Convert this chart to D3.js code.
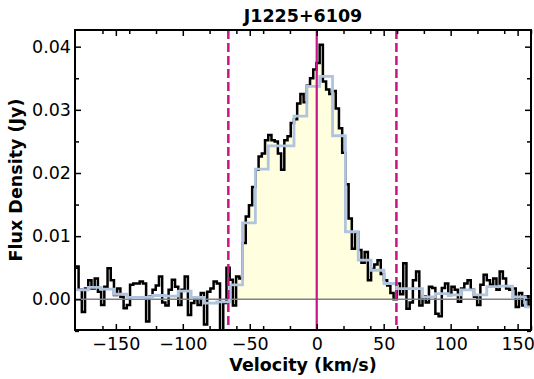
<!DOCTYPE html>
<html><head><meta charset="utf-8">
<script src="https://cdn.jsdelivr.net/npm/d3@7"></script>
<style>body{margin:0;background:#fff} svg{display:block} text{font-family:"DejaVu Sans",sans-serif}</style>
</head><body><svg id="c" width="534" height="379"></svg>
<script>
const channelVelocity = [-179.0,-176.6,-174.2,-171.8,-169.4,-167.0,-164.6,-162.2,-159.8,-157.4,-155.0,-152.6,-150.2,-147.8,-145.4,-143.0,-140.6,-138.2,-135.8,-133.4,-131.0,-128.6,-126.2,-123.8,-121.4,-119.0,-116.6,-114.2,-111.8,-109.4,-107.0,-104.6,-102.2,-99.8,-97.4,-95.0,-92.6,-90.2,-87.8,-85.4,-83.0,-80.6,-78.2,-75.8,-73.4,-71.0,-68.6,-66.2,-63.8,-61.4,-59.0,-56.6,-54.2,-51.8,-49.4,-47.0,-44.6,-42.2,-39.8,-37.4,-35.0,-32.6,-30.2,-27.8,-25.4,-23.0,-20.6,-18.2,-15.8,-13.4,-11.0,-8.6,-6.2,-3.8,-1.4,1.0,3.4,5.8,8.2,10.6,13.0,15.4,17.8,20.2,22.6,25.0,27.4,29.8,32.2,34.6,37.0,39.4,41.8,44.2,46.6,49.0,51.4,53.8,56.2,58.6,61.0,63.4,65.8,68.2,70.6,73.0,75.4,77.8,80.2,82.6,85.0,87.4,89.8,92.2,94.6,97.0,99.4,101.8,104.2,106.6,109.0,111.4,113.8,116.2,118.6,121.0,123.4,125.8,128.2,130.6,133.0,135.4,137.8,140.2,142.6,145.0,147.4,149.8,152.2,154.6,157.0,159.4];
const channelFlux = [0.0052,0.0015,-0.0020,0.0017,0.0030,0.0017,0.0033,0.0012,-0.0009,0.0020,0.0049,0.0030,0.0007,0.0017,0.0004,-0.0014,-0.0009,0.0023,0.0025,0.0025,0.0028,0.0025,-0.0035,0.0004,0.0015,0.0022,0.0036,-0.0005,-0.0010,0.0015,0.0031,0.0020,-0.0009,0.0015,0.0036,-0.0025,-0.0006,0.0000,-0.0009,0.0010,-0.0040,0.0012,0.0017,0.0028,0.0025,-0.0052,-0.0006,0.0050,0.0031,-0.0010,0.0036,0.0033,0.0089,0.0131,0.0149,0.0178,0.0205,0.0226,0.0231,0.0252,0.0260,0.0252,0.0250,0.0231,0.0205,0.0252,0.0258,0.0279,0.0285,0.0310,0.0325,0.0312,0.0338,0.0350,0.0364,0.0374,0.0403,0.0345,0.0332,0.0325,0.0330,0.0302,0.0271,0.0232,0.0182,0.0128,0.0080,0.0106,0.0078,0.0058,0.0075,0.0030,0.0048,0.0055,0.0062,0.0040,0.0030,0.0022,0.0010,0.0000,0.0025,0.0008,0.0057,-0.0015,-0.0005,0.0030,0.0044,-0.0010,0.0005,-0.0005,0.0020,0.0018,-0.0023,-0.0027,0.0018,0.0025,0.0007,0.0020,0.0015,-0.0004,0.0017,0.0025,0.0030,0.0015,0.0004,-0.0009,0.0023,0.0039,0.0030,0.0023,0.0033,0.0015,0.0044,0.0033,0.0017,0.0015,0.0017,-0.0012,0.0010,-0.0010,0.0005,-0.0010];
const binVelocity = [-175.4,-165.8,-156.2,-146.6,-137.0,-127.4,-117.8,-108.2,-98.6,-89.0,-79.4,-69.8,-60.2,-50.6,-41.0,-31.4,-21.8,-12.2,-2.6,7.0,16.6,26.2,35.8,45.4,55.0,64.6,74.2,83.8,93.4,103.0,112.6,122.2,131.8,141.4,151.0,160.6];
const binFlux = [0.0015,0.0019,0.0016,0.0008,0.0003,0.0003,0.0006,0.0005,0.0013,0.0003,-0.0006,-0.0004,0.0023,0.0121,0.0206,0.0243,0.0243,0.0290,0.0337,0.0353,0.0259,0.0107,0.0062,0.0046,0.0025,0.0017,0.0017,0.0004,0.0009,0.0007,0.0015,0.0007,0.0020,0.0021,0.0004,-0.0012];
const xTicks = [-150,-100,-50,0,50,100,150];
const xMinorTicks = [-160,-140,-120,-80,-60,-40,-20,20,40,60,80,120,140,160];
const yTicks = [0,0.01,0.02,0.03,0.04];
const yMinorTicks = [-0.005,0.005,0.015,0.025,0.035];
const systemicVelocity = 0;
const windowEdges = [-66, 59.5];
const title = "J1225+6109";
const xLabel = "Velocity (km/s)";
const yLabel = "Flux Density (Jy)";

const M = {left:75, right:531, top:30, bottom:330};
const svg = d3.select("#c");
const x = d3.scaleLinear().domain([-180.5,160]).range([M.left,M.right]);
const y = d3.scaleLinear().domain([-0.00486,0.04264]).range([M.bottom,M.top]);

function stepPoints(vs, fs){
  const pts=[];
  for(let i=0;i<vs.length;i++){
    const lo = i>0 ? (vs[i-1]+vs[i])/2 : vs[i]-(vs[1]-vs[0])/2;
    const hi = i<vs.length-1 ? (vs[i]+vs[i+1])/2 : vs[i]+(vs[i]-vs[i-1])/2;
    pts.push([lo,fs[i]],[hi,fs[i]]);
  }
  return pts;
}
const defs = svg.append("defs");
defs.append("clipPath").attr("id","plot").append("rect")
  .attr("x",M.left).attr("y",M.top).attr("width",M.right-M.left).attr("height",M.bottom-M.top);
defs.append("clipPath").attr("id","win").append("rect")
  .attr("x",x(windowEdges[0])).attr("y",M.top).attr("width",x(windowEdges[1])-x(windowEdges[0])).attr("height",M.bottom-M.top);

const blackPts = stepPoints(channelVelocity, channelFlux);
const bluePts = stepPoints(binVelocity, binFlux);
const g = svg.append("g").attr("clip-path","url(#plot)");

g.append("g").attr("clip-path","url(#win)").append("path")
  .attr("d", d3.area().x(d=>x(d[0])).y0(y(0)).y1(d=>y(d[1]))(blackPts))
  .attr("fill","#ffffe0");
const line = d3.line().x(d=>x(d[0])).y(d=>y(d[1]));
g.append("path").attr("d",line(blackPts)).attr("fill","none").attr("stroke","#000").attr("stroke-width",2.5);
g.append("line").attr("x1",M.left).attr("x2",M.right).attr("y1",y(0)).attr("y2",y(0))
  .attr("stroke","#808080").attr("stroke-width",1.5);
g.append("path").attr("d",line(bluePts)).attr("fill","none").attr("stroke","#b0c4de").attr("stroke-width",2.8);
g.append("line").attr("x1",x(systemicVelocity)).attr("x2",x(systemicVelocity)).attr("y1",M.top).attr("y2",M.bottom)
  .attr("stroke","#c71585").attr("stroke-width",2.2);
windowEdges.forEach(v=>{
  g.append("line").attr("x1",x(v)).attr("x2",x(v)).attr("y1",M.top).attr("y2",M.bottom)
    .attr("stroke","#c71585").attr("stroke-width",2.5).attr("stroke-dasharray","9,4");
});

function styleAxis(sel){
  sel.select(".domain").remove();
  sel.selectAll(".tick line").attr("stroke","#000").attr("stroke-width",1.5);
  sel.selectAll(".tick text").attr("font-size","17.5px").attr("fill","#000").attr("font-family","DejaVu Sans");
}
const fmtX = d => d<0 ? "\u2212"+Math.abs(d) : String(d);
const fmtY = d => d3.format(".2f")(d);
svg.append("g").attr("transform",`translate(0,${M.bottom})`)
  .call(d3.axisBottom(x).tickValues(xTicks).tickSize(-6).tickPadding(7.5).tickFormat(fmtX)).call(styleAxis);
svg.append("g").attr("transform",`translate(0,${M.bottom})`)
  .call(d3.axisBottom(x).tickValues(xMinorTicks).tickSize(-4).tickFormat("")).call(styleAxis);
svg.append("g").attr("transform",`translate(0,${M.top})`)
  .call(d3.axisTop(x).tickValues(xTicks).tickSize(-6).tickFormat("")).call(styleAxis);
svg.append("g").attr("transform",`translate(0,${M.top})`)
  .call(d3.axisTop(x).tickValues(xMinorTicks).tickSize(-4).tickFormat("")).call(styleAxis);
svg.append("g").attr("transform",`translate(${M.left},0)`)
  .call(d3.axisLeft(y).tickValues(yTicks).tickSize(-6).tickPadding(4).tickFormat(fmtY)).call(styleAxis);
svg.append("g").attr("transform",`translate(${M.left},0)`)
  .call(d3.axisLeft(y).tickValues(yMinorTicks).tickSize(-4).tickFormat("")).call(styleAxis);
svg.append("g").attr("transform",`translate(${M.right},0)`)
  .call(d3.axisRight(y).tickValues(yTicks).tickSize(-6).tickFormat("")).call(styleAxis);
svg.append("g").attr("transform",`translate(${M.right},0)`)
  .call(d3.axisRight(y).tickValues(yMinorTicks).tickSize(-4).tickFormat("")).call(styleAxis);

svg.append("rect").attr("x",M.left).attr("y",M.top).attr("width",M.right-M.left).attr("height",M.bottom-M.top)
  .attr("fill","none").attr("stroke","#000").attr("stroke-width",2);

svg.append("text").attr("x",(M.left+M.right)/2).attr("y",22).attr("text-anchor","middle")
  .attr("font-size","17.5px").attr("font-weight","bold").text(title);
svg.append("text").attr("x",(M.left+M.right)/2).attr("y",371).attr("text-anchor","middle")
  .attr("font-size","17.5px").attr("font-weight","bold").text(xLabel);
svg.append("text").attr("transform",`translate(22,${(M.top+M.bottom)/2}) rotate(-90)`).attr("text-anchor","middle")
  .attr("font-size","17.5px").attr("font-weight","bold").text(yLabel);
</script></body></html>
